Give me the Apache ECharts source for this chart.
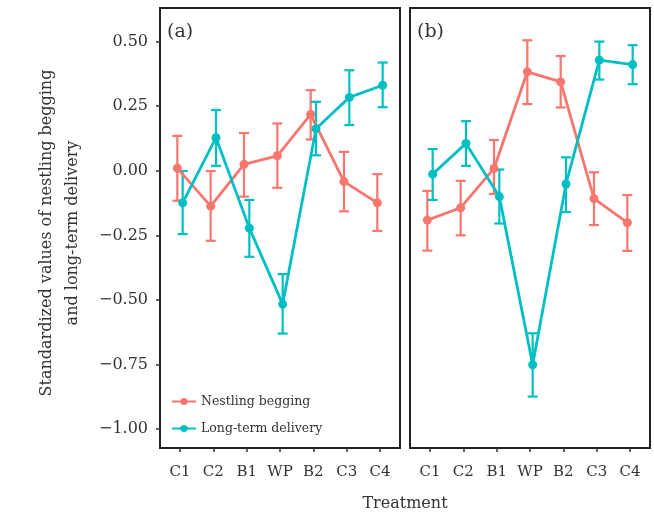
<!DOCTYPE html>
<html>
<head>
<meta charset="utf-8">
<script src="https://cdn.jsdelivr.net/npm/echarts@6/dist/echarts.min.js"></script>
<style>
  html, body { margin: 0; padding: 0; background: #fff; }
  #chart { width: 654px; height: 517px; }
</style>
</head>
<body>
<div id="chart"></div>
<script>
// treatments
var cats = ['C1', 'C2', 'B1', 'WP', 'B2', 'C3', 'C4'];
var yTicks = [-1.00, -0.75, -0.50, -0.25, 0.00, 0.25, 0.50];

// panel (a)
var begA   = [0.01, -0.137, 0.025, 0.058, 0.218, -0.042, -0.124];
var begALo = [-0.116, -0.271, -0.100, -0.066, 0.121, -0.157, -0.233];
var begAHi = [0.135, -0.001, 0.146, 0.183, 0.312, 0.073, -0.013];
var delA   = [-0.124, 0.128, -0.222, -0.516, 0.163, 0.284, 0.331];
var delALo = [-0.245, 0.019, -0.333, -0.630, 0.060, 0.177, 0.246];
var delAHi = [-0.001, 0.235, -0.113, -0.400, 0.267, 0.389, 0.419];

// panel (b)
var begB   = [-0.191, -0.143, 0.009, 0.383, 0.344, -0.108, -0.201];
var begBLo = [-0.309, -0.250, -0.090, 0.258, 0.245, -0.210, -0.310];
var begBHi = [-0.078, -0.039, 0.119, 0.505, 0.444, -0.006, -0.094];
var delB   = [-0.013, 0.106, -0.100, -0.751, -0.051, 0.428, 0.411];
var delBLo = [-0.113, 0.019, -0.204, -0.874, -0.160, 0.353, 0.335];
var delBHi = [0.084, 0.192, 0.005, -0.629, 0.052, 0.500, 0.486];

var RED = '#F8766D', TEAL = '#00BFC4';
var FONT = 'DejaVu Serif';
var dodge = 0.08;

function pts(vals, off) {
  return vals.map(function (v, i) { return [i + 1 + off, v]; });
}
function bars(lo, hi, off) {
  return lo.map(function (v, i) { return [i + 1 + off, v, hi[i]]; });
}

function errSeries(idx, lo, hi, off, color) {
  return {
    type: 'custom',
    xAxisIndex: idx, yAxisIndex: idx,
    data: bars(lo, hi, off),
    encode: { x: 0, y: [1, 2] },
    silent: true,
    z: 2,
    renderItem: function (params, api) {
      var top = api.coord([api.value(0), api.value(2)]);
      var bot = api.coord([api.value(0), api.value(1)]);
      var w = 5;
      var st = { stroke: color, lineWidth: 2.2 };
      return {
        type: 'group',
        children: [
          { type: 'line', shape: { x1: top[0], y1: top[1], x2: bot[0], y2: bot[1] }, style: st },
          { type: 'line', shape: { x1: top[0] - w, y1: top[1], x2: top[0] + w, y2: top[1] }, style: st },
          { type: 'line', shape: { x1: bot[0] - w, y1: bot[1], x2: bot[0] + w, y2: bot[1] }, style: st }
        ]
      };
    }
  };
}

function lineSeries(idx, name, vals, off, color) {
  return {
    type: 'line',
    name: name,
    xAxisIndex: idx, yAxisIndex: idx,
    data: pts(vals, off),
    symbol: 'circle',
    symbolSize: 9,
    lineStyle: { color: color, width: 2.8 },
    itemStyle: { color: color },
    z: 3,
    animation: false
  };
}

function xAx(idx) {
  return {
    type: 'value', gridIndex: idx, min: 0.4, max: 7.6, position: 'bottom',
    axisLine: { show: false, onZero: false },
    splitLine: { show: false },
    axisTick: { show: true, length: 4, customValues: [1, 2, 3, 4, 5, 6, 7], lineStyle: { color: '#333', width: 1.5 } },
    axisLabel: {
      customValues: [1, 2, 3, 4, 5, 6, 7],
      formatter: function (v) { return cats[Math.round(v) - 1]; },
      color: '#333', fontFamily: FONT, fontSize: 15, margin: 17
    }
  };
}

function yAx(idx, showLabels) {
  return {
    type: 'value', gridIndex: idx, min: -1.073, max: 0.63,
    axisLine: { show: false, onZero: false },
    splitLine: { show: false },
    axisTick: { show: showLabels, length: 4, customValues: yTicks, lineStyle: { color: '#333', width: 1.5 } },
    axisLabel: {
      show: showLabels,
      customValues: yTicks,
      formatter: function (v) { return (v < 0 ? '\u2212' : '') + Math.abs(v).toFixed(2); },
      color: '#333', fontFamily: FONT, fontSize: 16, margin: 12
    }
  };
}

var chart = echarts.init(document.getElementById('chart'));
chart.setOption({
  animation: false,
  backgroundColor: '#fff',
  grid: [
    { left: 160, top: 8, width: 240, height: 440, show: true, borderColor: '#222', borderWidth: 2, backgroundColor: '#fff' },
    { left: 410, top: 8, width: 240, height: 440, show: true, borderColor: '#222', borderWidth: 2, backgroundColor: '#fff' }
  ],
  xAxis: [xAx(0), xAx(1)],
  yAxis: [yAx(0, true), yAx(1, false)],
  legend: {
    orient: 'vertical',
    left: 166, top: 389,
    itemWidth: 24, itemHeight: 9, itemGap: 12,
    textStyle: { fontFamily: FONT, fontSize: 12.5, color: '#333', lineHeight: 15 },
    data: ['Nestling begging', 'Long-term delivery']
  },
  graphic: [
    { type: 'text', left: 167, top: 23, style: { text: '(a)', font: '19px "DejaVu Serif"', fill: '#333' } },
    { type: 'text', left: 417, top: 23, style: { text: '(b)', font: '19px "DejaVu Serif"', fill: '#333' } },
    { type: 'text', x: 405, y: 504, style: { text: 'Treatment', font: '16px "DejaVu Serif"', fill: '#333', align: 'center', verticalAlign: 'middle' } },
    { type: 'text', x: 60, y: 233, rotation: Math.PI / 2,
      style: { text: 'Standardized values of nestling begging\nand long-term delivery', font: '16px "DejaVu Serif"', fill: '#333', align: 'center', verticalAlign: 'middle', lineHeight: 26 } }
  ],
  series: [
    errSeries(0, begALo, begAHi, -dodge, RED),
    errSeries(0, delALo, delAHi, dodge, TEAL),
    lineSeries(0, 'Nestling begging', begA, -dodge, RED),
    lineSeries(0, 'Long-term delivery', delA, dodge, TEAL),
    errSeries(1, begBLo, begBHi, -dodge, RED),
    errSeries(1, delBLo, delBHi, dodge, TEAL),
    lineSeries(1, 'Nestling begging', begB, -dodge, RED),
    lineSeries(1, 'Long-term delivery', delB, dodge, TEAL)
  ]
});
</script>
</body>
</html>
